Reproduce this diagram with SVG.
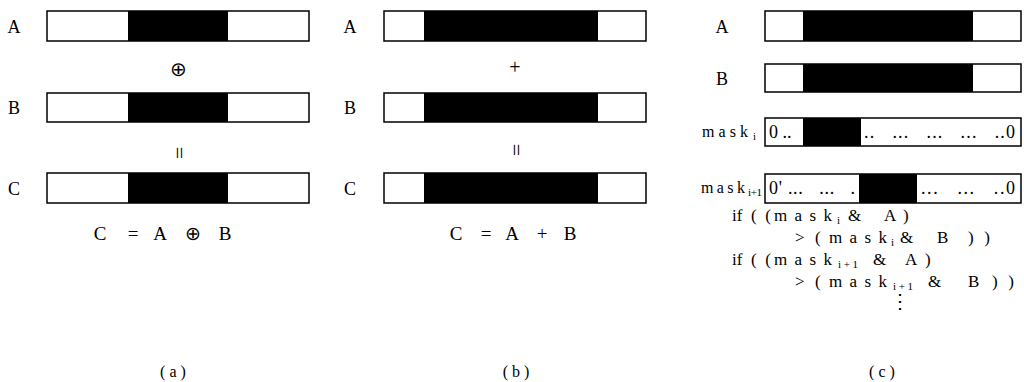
<svg xmlns="http://www.w3.org/2000/svg" width="1024" height="382" viewBox="0 0 1024 382">
<style>
.bar{fill:#fff;stroke:#000;stroke-width:1.5}
.blk{fill:#000}
text{font-family:"Liberation Serif","Times New Roman",serif;fill:#000}
.lbl{font-size:18px;text-anchor:middle}
.fm{font-size:19px;text-anchor:middle}
.op{font-size:20px;text-anchor:middle}
.eq{font-size:22px;text-anchor:middle;fill:#000;stroke:none}
.cap{font-size:16px;text-anchor:middle}
.code{font-size:17px}
.ml{font-size:16px}
.sub{font-size:11px}
.dots{font-size:18px}
</style>
<rect width="1024" height="382" fill="#fff"/>

<!-- panel (a) -->
<g id="a-A">
<text class="lbl" x="14" y="33">A</text>
<rect class="bar" x="47" y="11" width="262" height="30"/>
<rect class="blk" x="128" y="11" width="100" height="30"/>
</g>
<g id="a-xor"><text class="op" x="178" y="76">⊕</text></g>
<g id="a-B">
<text class="lbl" x="14" y="114">B</text>
<rect class="bar" x="47" y="93" width="262" height="29"/>
<rect class="blk" x="128" y="93" width="100" height="29"/>
</g>
<g id="a-eq"><text class="eq" transform="translate(178,153) rotate(90)" y="6">=</text></g>
<g id="a-C">
<text class="lbl" x="14" y="195">C</text>
<rect class="bar" x="47" y="173" width="262" height="30"/>
<rect class="blk" x="128" y="173" width="100" height="30"/>
</g>
<g id="a-formula">
<text class="fm" x="100" y="240">C</text>
<text class="fm" x="133" y="240">=</text>
<text class="fm" x="160" y="240">A</text>
<text class="fm" x="193" y="240">⊕</text>
<text class="fm" x="225" y="240">B</text>
</g>
<g id="a-cap"><text class="cap" x="173" y="377" xml:space="preserve">( a )</text></g>

<!-- panel (b) -->
<g id="b-A">
<text class="lbl" x="350" y="33">A</text>
<rect class="bar" x="384" y="11" width="262" height="30"/>
<rect class="blk" x="424" y="11" width="174" height="30"/>
</g>
<g id="b-plus"><text class="op" x="515" y="74">+</text></g>
<g id="b-B">
<text class="lbl" x="350" y="114">B</text>
<rect class="bar" x="384" y="93" width="262" height="29"/>
<rect class="blk" x="424" y="93" width="174" height="29"/>
</g>
<g id="b-eq"><text class="eq" transform="translate(515,150) rotate(90)" y="6">=</text></g>
<g id="b-C">
<text class="lbl" x="350" y="195">C</text>
<rect class="bar" x="384" y="173" width="262" height="30"/>
<rect class="blk" x="424" y="173" width="174" height="30"/>
</g>
<g id="b-formula">
<text class="fm" x="456" y="240">C</text>
<text class="fm" x="486" y="240">=</text>
<text class="fm" x="512" y="240">A</text>
<text class="fm" x="542" y="240">+</text>
<text class="fm" x="570" y="240">B</text>
</g>
<g id="b-cap"><text class="cap" x="516" y="377" xml:space="preserve">( b )</text></g>

<!-- panel (c) -->
<g id="c-A">
<text class="lbl" x="722" y="33">A</text>
<rect class="bar" x="765" y="11" width="256" height="30"/>
<rect class="blk" x="803" y="11" width="170" height="30"/>
</g>
<g id="c-B">
<text class="lbl" x="722" y="85">B</text>
<rect class="bar" x="765" y="64" width="256" height="28"/>
<rect class="blk" x="803" y="64" width="170" height="28"/>
</g>
<g id="c-mask-i">
<text class="ml" x="702" y="137" textLength="46" lengthAdjust="spacing">m a s k</text>
<text class="sub" x="753" y="140">i</text>
<rect class="bar" x="765" y="118" width="256" height="28"/>
<rect class="blk" x="803" y="118" width="58" height="28"/>
<text class="dots" x="769" y="138" xml:space="preserve">0 ..</text>
<text class="dots" x="864" y="138" textLength="151" lengthAdjust="spacing" xml:space="preserve">..   ...   ...   ...   ..0</text>
</g>
<g id="c-mask-i1">
<text class="ml" x="701" y="193" textLength="44" lengthAdjust="spacing">m a s k</text>
<text class="sub" x="748" y="196" textLength="14" lengthAdjust="spacing">i+1</text>
<rect class="bar" x="765" y="174" width="256" height="29"/>
<rect class="blk" x="859" y="174" width="58" height="29"/>
<text class="dots" x="769" y="194" textLength="86" lengthAdjust="spacing" xml:space="preserve">0' ...   ...   .</text>
<text class="dots" x="921" y="194" textLength="94" lengthAdjust="spacing" xml:space="preserve">...   ...   ..0</text>
</g>
<g id="c-code">
<text class="code" x="732" y="221">if</text>
<text class="code" x="751" y="221" textLength="20" lengthAdjust="spacing">((</text>
<text class="code" x="774" y="221" textLength="58" lengthAdjust="spacing">m a s k</text>
<text class="sub" x="837" y="224">i</text>
<text class="code" x="848" y="221">&amp;</text>
<text class="code" x="884" y="221">A</text>
<text class="code" x="903" y="221">)</text>

<text class="code" x="795" y="243">&gt;</text>
<text class="code" x="815" y="243">(</text>
<text class="code" x="829" y="243" textLength="58" lengthAdjust="spacing">m a s k</text>
<text class="sub" x="891" y="246">i</text>
<text class="code" x="900" y="243">&amp;</text>
<text class="code" x="937" y="243">B</text>
<text class="code" x="968" y="243" textLength="22" lengthAdjust="spacing">))</text>

<text class="code" x="732" y="265">if</text>
<text class="code" x="751" y="265" textLength="20" lengthAdjust="spacing">((</text>
<text class="code" x="774" y="265" textLength="58" lengthAdjust="spacing">m a s k</text>
<text class="sub" x="838" y="268" textLength="20" lengthAdjust="spacing">i+1</text>
<text class="code" x="873" y="265">&amp;</text>
<text class="code" x="905" y="265">A</text>
<text class="code" x="925" y="265">)</text>

<text class="code" x="795" y="287">&gt;</text>
<text class="code" x="815" y="287">(</text>
<text class="code" x="829" y="287" textLength="58" lengthAdjust="spacing">m a s k</text>
<text class="sub" x="893" y="290" textLength="20" lengthAdjust="spacing">i+1</text>
<text class="code" x="928" y="287">&amp;</text>
<text class="code" x="968" y="287">B</text>
<text class="code" x="992" y="287" textLength="22" lengthAdjust="spacing">))</text>
<text class="op" x="900" y="308">⋮</text>
</g>
<g id="c-cap"><text class="cap" x="882" y="377" xml:space="preserve">( c )</text></g>
</svg>
